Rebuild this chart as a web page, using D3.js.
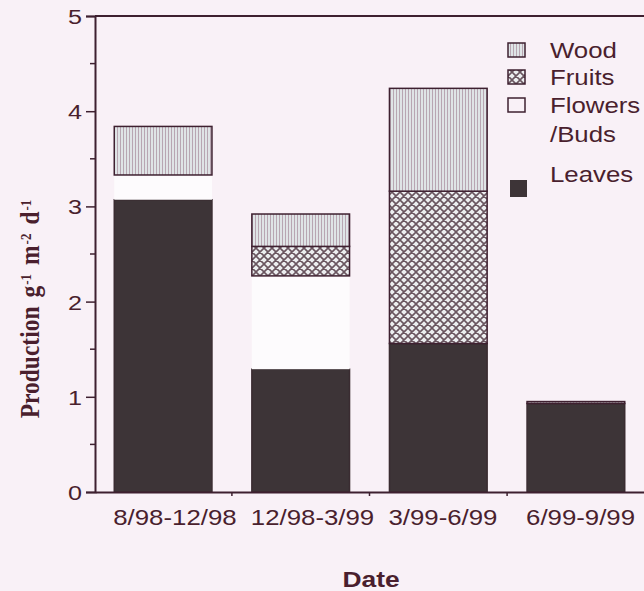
<!DOCTYPE html>
<html>
<head>
<meta charset="utf-8">
<script src="https://cdn.jsdelivr.net/npm/d3@7"></script>
<style>
  body { margin: 0; background: #f9f1f7; }
  svg { display: block; }
  text { fill: #4a1f2e; }
</style>
</head>
<body>
<div id="chart"></div>
<script>
var width = 644, height = 591;

// values (g m-2 d-1)
var categories = ["8/98-12/98", "12/98-3/99", "3/99-6/99", "6/99-9/99"];
var leaves  = [3.07, 1.29, 1.56, 0.93];
var flowers = [0.26, 0.98, 0.00, 0.00];
var fruits  = [0.00, 0.31, 1.60, 0.00];
var wood    = [0.51, 0.34, 1.08, 0.02];
var yTicks = [0, 1, 2, 3, 4, 5];
var yMinor = [0.5, 1.5, 2.5, 3.5, 4.5];
var legendItems = [["Wood"], ["Fruits"], ["Flowers", "/Buds"], ["Leaves"]];

var keys = ["leaves", "flowers", "fruits", "wood"];
var rows = categories.map(function(c, i) {
    return {cat: c, leaves: leaves[i], flowers: flowers[i], fruits: fruits[i], wood: wood[i]};
});

var pL = 95, pR = 644, pT = 16, pB = 492;
var ink = "#3e2030";
var sx = 1.2; // glyphs in the scan are wider than they are tall

var x = d3.scaleBand().domain(categories).range([pL, pR])
    .paddingInner(0.29).paddingOuter(0.14);
var y = d3.scaleLinear().domain([0, 5]).range([pB, pT]);

var svg = d3.select("#chart").append("svg")
    .attr("width", width)
    .attr("height", height);

var defs = svg.append("defs");
var pw = defs.append("pattern").attr("id", "woodPat")
    .attr("patternUnits", "userSpaceOnUse").attr("width", 3).attr("height", 8);
pw.append("rect").attr("width", 3).attr("height", 8).attr("fill", "#dfe4e6");
pw.append("rect").attr("width", 1).attr("height", 8).attr("fill", "#b8a6b2");

var pf = defs.append("pattern").attr("id", "fruitPat")
    .attr("patternUnits", "userSpaceOnUse").attr("width", 8).attr("height", 8);
pf.append("rect").attr("width", 8).attr("height", 8).attr("fill", "#eceef0");
pf.append("path").attr("d", "M0,0L8,8M8,0L0,8M-1,7L1,9M7,-1L9,1")
    .attr("stroke", "#6a5660").attr("stroke-width", 1.6).attr("fill", "none");

var fills = {leaves: "#3d3437", flowers: "#fdfbfd", fruits: "url(#fruitPat)", wood: "url(#woodPat)"};
var strokes = {leaves: "#3a2c31", flowers: "none", fruits: ink, wood: ink};

var series = d3.stack().keys(keys)(rows);

svg.append("g").selectAll("g")
    .data(series)
    .enter().append("g")
    .each(function(s) {
        d3.select(this).selectAll("rect")
            .data(s.filter(function(d) { return d[1] - d[0] > 0; }))
            .enter().append("rect")
            .attr("x", function(d) { return x(d.data.cat); })
            .attr("width", x.bandwidth())
            .attr("y", function(d) { return y(d[1]); })
            .attr("height", function(d) { return y(d[0]) - y(d[1]); })
            .attr("fill", fills[s.key])
            .attr("stroke", strokes[s.key])
            .attr("stroke-width", 1.5);
    });

// frame: left axis, top line, bottom axis
svg.append("line").attr("x1", pL).attr("x2", pR).attr("y1", pT).attr("y2", pT)
    .attr("stroke", ink).attr("stroke-width", 2);

var yAxis = svg.append("g").attr("transform", "translate(" + pL + ",0)")
    .call(d3.axisLeft(y).tickValues(yTicks).tickSize(9).tickFormat(d3.format("d")));
yAxis.select(".domain").attr("stroke", ink).attr("stroke-width", 2);
yAxis.selectAll(".tick line").attr("stroke", ink).attr("stroke-width", 1.5);
yAxis.selectAll(".tick text").remove();

svg.append("g").selectAll("line").data(yMinor).enter().append("line")
    .attr("x1", pL - 5).attr("x2", pL)
    .attr("y1", function(d) { return y(d); }).attr("y2", function(d) { return y(d); })
    .attr("stroke", ink).attr("stroke-width", 1.5);

svg.append("g").selectAll("text").data(yTicks).enter().append("text")
    .attr("transform", function(d) { return "translate(82," + (y(d) + 8) + ") scale(" + sx + ",1)"; })
    .attr("text-anchor", "end")
    .style("font-family", "'Liberation Sans', Arial, sans-serif")
    .style("font-size", "21px")
    .text(function(d) { return d; });

var xAxis = svg.append("g").attr("transform", "translate(0," + pB + ")")
    .call(d3.axisBottom(x).tickSize(0).tickFormat(""));
xAxis.select(".domain").attr("stroke", ink).attr("stroke-width", 2);

// small ticks between the periods
var gaps = categories.slice(1).map(function(c) {
    return x(c) - x.step() * x.paddingInner() / 2;
});
svg.append("g").selectAll("line").data(gaps).enter().append("line")
    .attr("x1", function(d) { return d; }).attr("x2", function(d) { return d; })
    .attr("y1", pB).attr("y2", pB + 4)
    .attr("stroke", ink).attr("stroke-width", 1.5);

svg.append("g").selectAll("text").data(categories).enter().append("text")
    .attr("transform", function(d) { return "translate(" + (x(d) - 1) + ",525) scale(" + sx + ",1)"; })
    .style("font-family", "'Liberation Sans', Arial, sans-serif")
    .style("font-size", "21.5px")
    .text(function(d) { return d; });

svg.append("text")
    .attr("transform", "translate(371,587) scale(" + sx + ",1)")
    .attr("text-anchor", "middle")
    .style("font-family", "'Liberation Sans', Arial, sans-serif")
    .style("font-size", "22px")
    .style("font-weight", "bold")
    .text("Date");

// y label with superscripts
var yl = svg.append("text")
    .attr("transform", "translate(39,309) rotate(-90) scale(1,1.15)")
    .attr("text-anchor", "middle")
    .style("font-family", "'Liberation Serif', 'Times New Roman', serif")
    .style("font-size", "23.5px")
    .style("font-weight", "bold");
yl.append("tspan").text("Production");
[["g", "-1"], ["m", "-2"], ["d", "-1"]].forEach(function(p, i) {
    yl.append("tspan").attr("dx", 9).attr("dy", i === 0 ? 0 : 7).text(p[0]);
    yl.append("tspan").attr("dx", 1).attr("dy", -7).style("font-size", "13px").text(p[1]);
});

// legend
var swatch = {Wood: "url(#woodPat)", Fruits: "url(#fruitPat)", Flowers: "none", Leaves: "#3d3437"};
var legendY = [58, 85, 113, 182];
var lg = svg.append("g");
legendItems.forEach(function(lines, i) {
    var name = lines[0];
    var by = legendY[i];
    var sy = name === "Leaves" ? by - 2 : by - 15;
    lg.append("rect")
        .attr("x", name === "Leaves" ? 510 : 508).attr("y", sy)
        .attr("width", 17).attr("height", name === "Leaves" ? 17 : 14)
        .attr("fill", swatch[name])
        .attr("stroke", name === "Leaves" ? "none" : ink)
        .attr("stroke-width", 1.5);
    lines.forEach(function(t, j) {
        lg.append("text")
            .attr("transform", "translate(550," + (by + j * 29) + ") scale(" + sx + ",1)")
            .style("font-family", "'Liberation Sans', Arial, sans-serif")
            .style("font-size", "21.5px")
            .text(t);
    });
});
</script>
</body>
</html>
